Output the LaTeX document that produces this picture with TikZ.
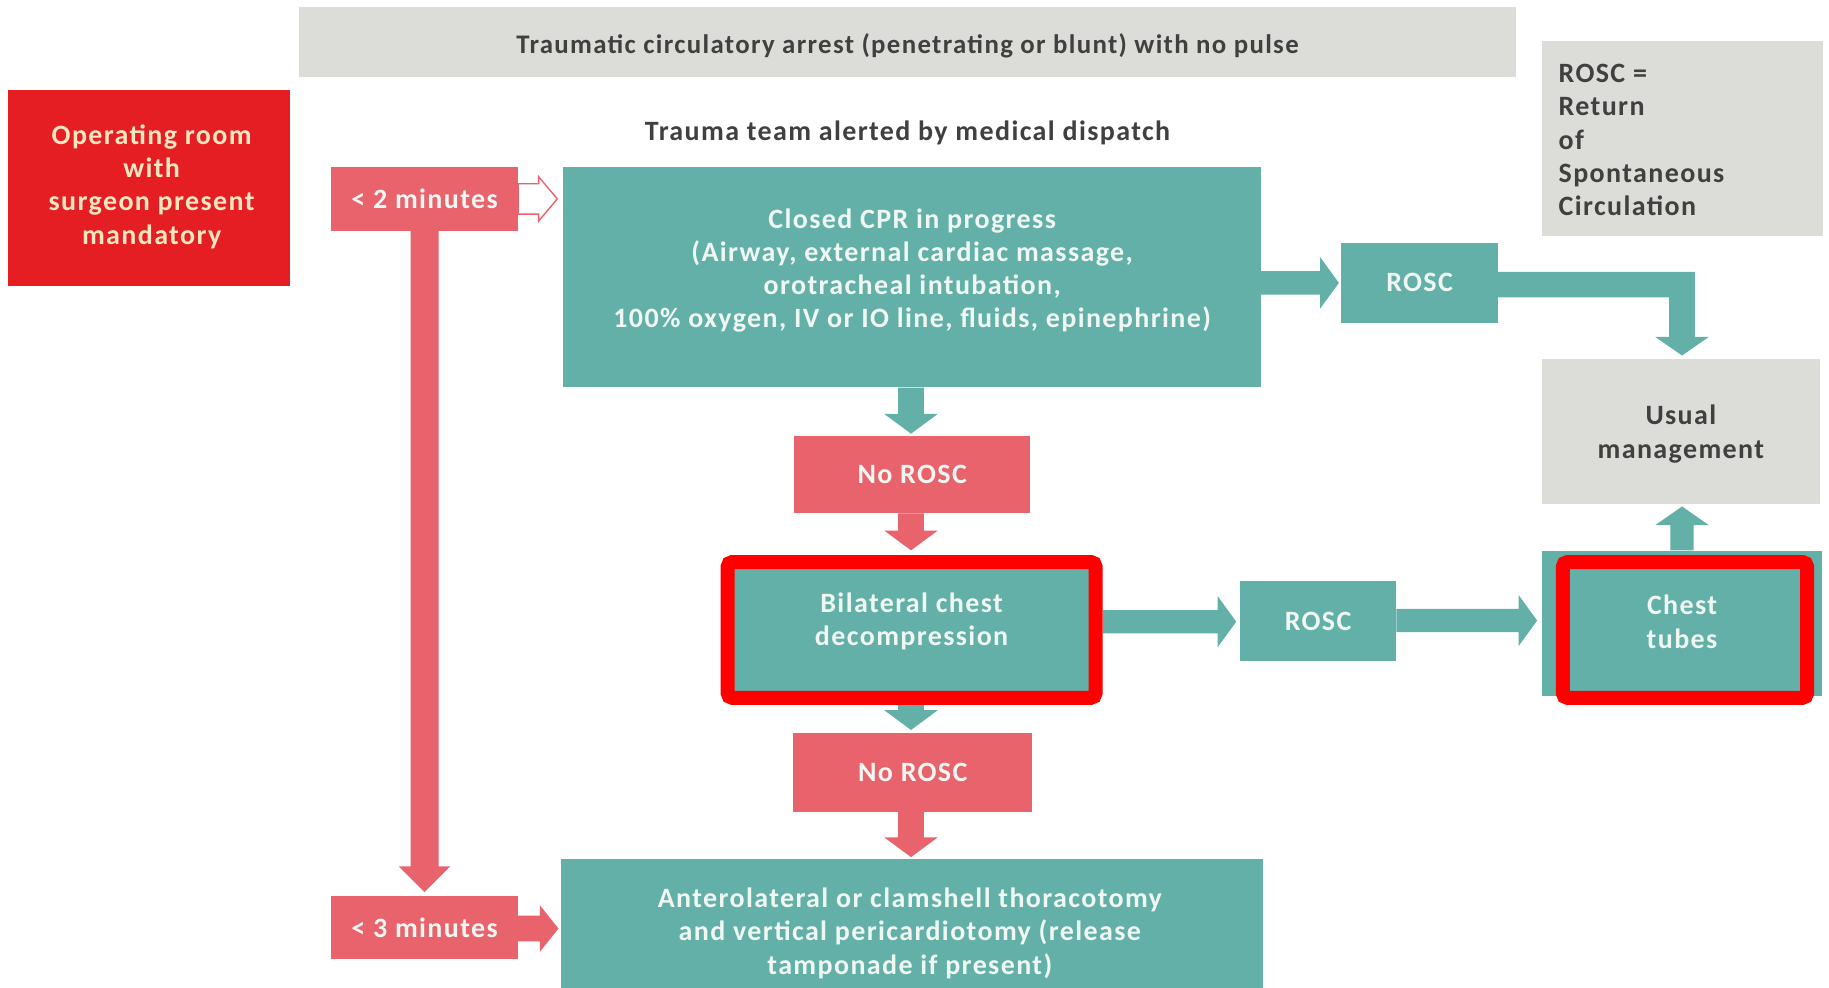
\documentclass[tikz,border=0pt]{standalone}
\usepackage{fontspec}
\setmainfont{Carlito}[LetterSpace=5]
\usetikzlibrary{calc}
\definecolor{tealc}{HTML}{62B0A8}
\definecolor{salm}{HTML}{E8636B}
\definecolor{redbox}{HTML}{E41E22}
\definecolor{grayb}{HTML}{DCDDD9}
\definecolor{darkt}{HTML}{404040}
\definecolor{cream}{HTML}{F7E6BF}
\definecolor{lightt}{HTML}{F0F7F3}
\definecolor{hlred}{HTML}{FF0000}
% right-pointing block arrow: from, to, style, half shaft, half head, head length
\newcommand\fatR[6]{\path[#3] let \p1=(#1), \p2=(#2) in
  (\x1,\y2+#4) -- (\x2-#6,\y2+#4) -- (\x2-#6,\y2+#5) -- (\x2,\y2) -- (\x2-#6,\y2-#5) -- (\x2-#6,\y2-#4) -- (\x1,\y2-#4) -- cycle;}
% downward block arrow
\newcommand\fatD[6]{\path[#3] let \p1=(#1), \p2=(#2) in
  (\x1-#4,\y1) -- (\x1-#4,\y2+#6) -- (\x1-#5,\y2+#6) -- (\x1,\y2) -- (\x1+#5,\y2+#6) -- (\x1+#4,\y2+#6) -- (\x1+#4,\y1) -- cycle;}
% upward block arrow
\newcommand\fatU[6]{\path[#3] let \p1=(#1), \p2=(#2) in
  (\x1-#4,\y1) -- (\x1-#4,\y2-#6) -- (\x1-#5,\y2-#6) -- (\x1,\y2) -- (\x1+#5,\y2-#6) -- (\x1+#4,\y2-#6) -- (\x1+#4,\y1) -- cycle;}
\begin{document}
\begin{tikzpicture}[x=1pt,y=-1pt,
  txt/.style={font=\fontsize{24}{28.5}\selectfont\bfseries, align=center, inner sep=0pt},
  tbox/.style={fill=tealc, inner sep=0pt},
  sbox/.style={fill=salm, inner sep=0pt, text=lightt, font=\fontsize{24}{28.5}\selectfont\bfseries},
  gbox/.style={fill=grayb, inner sep=0pt},
  hl/.style={draw=hlred, line width=12pt, rounded corners=4pt},
  tarr/.style={fill=tealc},
  sarr/.style={fill=salm}]
\useasboundingbox (0,0) rectangle (1568,847);
% boxes
\node[gbox, minimum width=1044pt, minimum height=60pt] (top) at (778,36) {};
\node[txt, font=\fontsize{23}{28.5}\selectfont\bfseries, text=darkt] (toptxt) at (778,39) {Traumatic circulatory arrest (penetrating or blunt) with no pulse};
\node[fill=redbox, inner sep=0pt, minimum width=242pt, minimum height=168pt] (orbox) at (128,161) {};
\node[txt, text=cream] (ortxt) at (130,160) {Operating room\\with\\surgeon present\\mandatory};
\node[txt, text=darkt] (disp) at (778,114) {Trauma team alerted by medical dispatch};
\node[sbox, minimum width=160pt, minimum height=55pt] (m2) at (364,170.5) {< 2 minutes};
\node[sbox, minimum width=160pt, minimum height=54pt] (m3) at (364,795) {< 3 minutes};
\node[tbox, minimum width=598pt, minimum height=189pt] (cpr) at (782,237.5) {};
\node[txt, text=lightt] (cprtxt) at (782,232) {Closed CPR in progress\\(Airway, external cardiac massage,\\orotracheal intubation,\\100\% oxygen, IV or IO line, fluids, epinephrine)};
\node[tbox, minimum width=134pt, minimum height=69pt, txt, text=lightt] (rosc1) at (1217,242.5) {ROSC};
\node[gbox, minimum width=241pt, minimum height=167pt] (legend) at (1442.5,118.5) {};
\node[txt, text=darkt, align=left, anchor=west] (legtxt) at (1336,120) {ROSC =\\Return\\of\\Spontaneous\\Circulation};
\node[gbox, minimum width=238pt, minimum height=124pt] (usual) at (1441,370) {};
\node[txt, text=darkt] (ustxt) at (1441,372) {Usual\\management};
\node[sbox, minimum width=202pt, minimum height=66pt] (nr1) at (782,407) {No ROSC};
\node[tbox, minimum width=315pt, minimum height=116pt] (bil) at (781.5,540) {};
\node[txt, text=lightt] (biltxt) at (781.5,533) {Bilateral chest\\decompression};
\node[tbox, minimum width=134pt, minimum height=69pt, txt, text=lightt] (rosc2) at (1130,532.5) {ROSC};
\node[tbox, minimum width=240pt, minimum height=125pt] (chest) at (1442,534.5) {};
\node[txt, text=lightt] (chesttxt) at (1442,533) {Chest\\tubes};
\node[sbox, minimum width=205pt, minimum height=68pt] (nr2) at (782.5,662) {No ROSC};
\node[tbox, minimum width=602pt, minimum height=111pt] (antero) at (782,791.5) {};
\node[txt, text=lightt] (anttxt) at (780,800) {Anterolateral or clamshell thoracotomy\\and vertical pericardiotomy (release\\tamponade if present)};
% connectors
\fatR{m2.east}{$(cpr.west|-m2.east)+(-5,0)$}{fill=white, draw=salm, line width=1.2pt}{13pt}{19pt}{16pt}
\fatD{m2.south}{$(m3.north)+(0,-3)$}{sarr}{12pt}{22pt}{22pt}
\fatR{m3.east}{$(antero.west|-m3.east)+(-2,1)$}{sarr}{11pt}{20pt}{16pt}
\fatR{cpr.east}{$(rosc1.west)+(-2,0)$}{tarr}{10pt}{22pt}{16pt}
\fatD{$(cpr.south)+(-1,0)$}{$(nr1.north)+(-1,-2)$}{tarr}{11pt}{23pt}{17pt}
\fatD{$(nr1.south)+(-1,0)$}{$(bil.north)+(-0.5,-10)$}{sarr}{11pt}{23pt}{17pt}
\fatD{$(bil.south)+(-0.5,0)$}{$(nr2.north)+(-1.5,-2)$}{tarr}{11pt}{23pt}{17pt}
\fatD{$(nr2.south)+(-1.5,0)$}{$(antero.north)+(-1,-1)$}{sarr}{11pt}{23pt}{17pt}
\fatR{$(bil.east)+(6,0)$}{$(rosc2.west|-0,533)+(-3,0)$}{tarr}{10pt}{22pt}{16pt}
\fatR{rosc2.east}{$(chest.west|-0,532)+(-4,0)$}{tarr}{10pt}{22pt}{16pt}
\fatU{chest.north}{$(usual.south)+(1,2)$}{tarr}{10pt}{23pt}{16pt}
\path[tarr] let \p1=($(rosc1.east)+(0,1.5)$), \p2=($(usual.north)+(1,-3)$) in
  (\x1,\y1+11pt) -- (\x2+11pt,\y1+11pt) -- (\x2+11pt,\y2+16pt) -- (\x2+23pt,\y2+16pt) -- (\x2,\y2)
  -- (\x2-23pt,\y2+16pt) -- (\x2-11pt,\y2+16pt) -- (\x2-11pt,\y1-11pt) -- (\x1,\y1-11pt) -- cycle;
% highlight frames
\draw[hl] (bil.north west) rectangle (bil.south east);
\draw[hl] ($(chest.north west)+(18,10)$) rectangle ($(chest.south east)+(-13,1)$);
\end{tikzpicture}
\end{document}
